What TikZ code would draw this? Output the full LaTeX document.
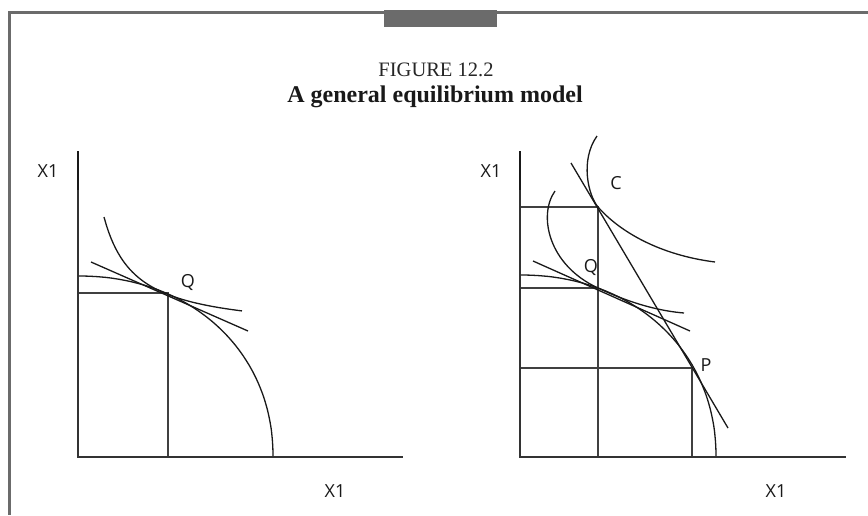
\documentclass[tikz,border=0pt]{standalone}
\usepackage{fontspec}
\setmainfont{Liberation Serif}
\setsansfont{Open Sans}
\usepackage{tikz}
\usetikzlibrary{calc}

\begin{document}
\begin{tikzpicture}[x=1pt, y=-1pt,
  axis/.style={draw=black!80, line width=2pt},
  guide/.style={draw=black!75, line width=2.2pt},
  curve/.style={draw=black!90, line width=1.3pt},
  lbl/.style={font=\sffamily\fontsize{18}{18}\selectfont, text=black!90}]
  \useasboundingbox[fill=white] (0,0) rectangle (868,515);
  % frame and tab
  \fill[black!58] (8,11) rectangle (868,13.5);
  \fill[black!58] (8,11) rectangle (10.5,515);
  \fill[black!58] (384,10) rectangle (497,27);
  % title
  \node[anchor=base, text=black!85] (fig) at (436,76) {\fontsize{20.5}{20.5}\selectfont FIGURE 12.2};
  \node[anchor=base, text=black!90] (ttl) at (435,102) {\fontsize{24}{24}\selectfont\bfseries A general equilibrium model};

  % left panel: box at Q
  \draw[guide] (78,293) -- (168,293) -- (168,457);
  % axes
  \draw[curve] (78,151) -- (78,457);
  \draw[axis] (78,190) -- (78,457) -- (403,457);
  % frontier, price line, indifference curve
  \draw[curve] plot[domain=0.2:89.8, samples=90]
    ({78+195*cos(\x)^(0.952)}, {457-181*sin(\x)^(0.952)});
  \draw[curve] (91,262) -- (248,331);
  \draw[curve] plot[domain=104:242, samples=60] (\x, {332-3564/(\x-73)});
  \node[lbl] (qa) at (188,282) {Q};
  \node[lbl] (ya) at (48,171) {X1};
  \node[lbl] (xa) at (335,491) {X1};

  % right panel: boxes at C, Q and P
  \draw[guide] (520,207) -- (598,207) -- (598,457);
  \draw[guide] (520,288) -- (598,288);
  \draw[guide] (520,368) -- (692,368) -- (692,457);
  % axes
  \draw[curve] (520,151) -- (520,457);
  \draw[axis] (520,190) -- (520,457) -- (846,457);
  % frontier and the two price lines
  \draw[curve] plot[domain=0.2:89.8, samples=90]
    ({520+196*cos(\x)^(0.952)}, {457-182*sin(\x)^(0.952)});
  \draw[curve] (533,261) -- (690,331);
  \draw[curve] (571,163) -- (728,428);
  % indifference curves
  \draw[curve] (555,191) .. controls (538,215) and (548,265) .. (598,288)
    .. controls (632,304) and (660,311) .. (684,313);
  \draw[curve] (597,136) .. controls (580,160) and (588,195) .. (598,207)
    .. controls (620,232) and (660,255) .. (715,262);
  \node[lbl] (qb) at (591,267) {Q};
  \node[lbl] (cb) at (616,183) {C};
  \node[lbl] (pb) at (706,365) {P};
  \node[lbl] (yb) at (491,171) {X1};
  \node[lbl] (xb) at (776,491) {X1};
\end{tikzpicture}
\end{document}
